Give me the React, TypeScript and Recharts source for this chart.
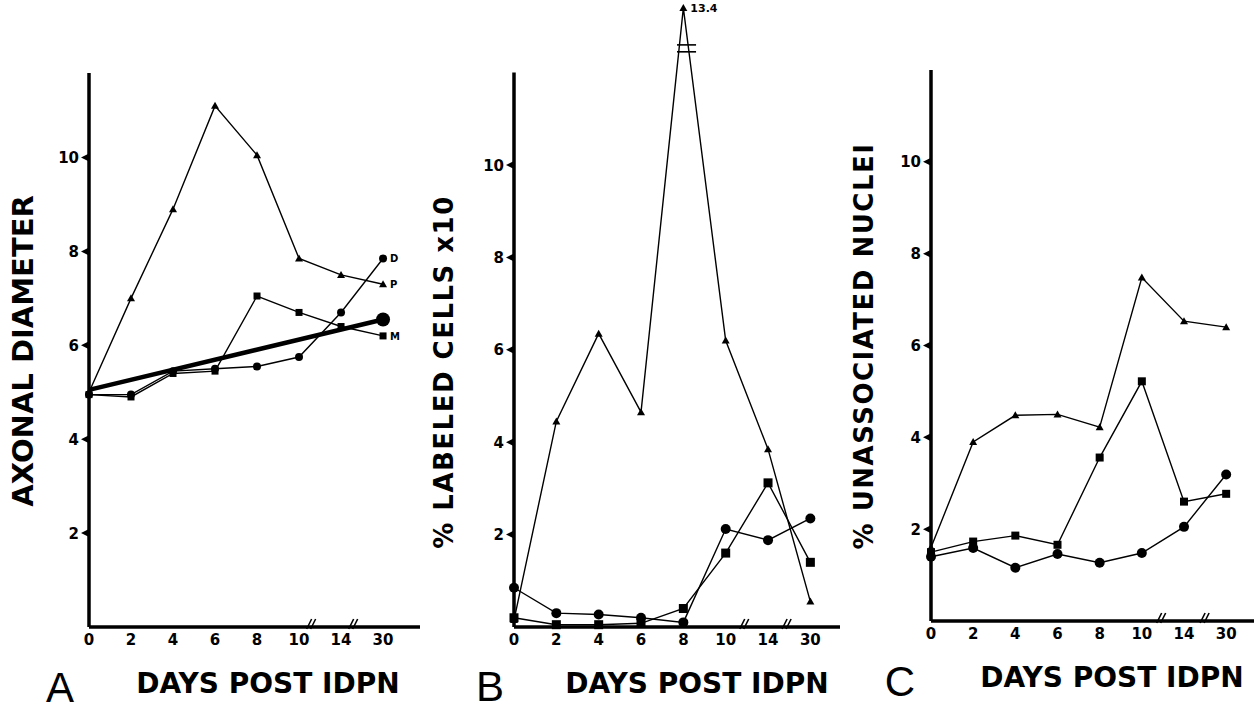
import React from "react";
import {
  LineChart,
  Line,
  XAxis,
  YAxis,
  ReferenceLine,
  ReferenceDot,
  LabelList
} from "recharts";

// days post IDPN, plotted on an evenly spaced index (axis is broken after 10 and 14)
const days = ["0", "2", "4", "6", "8", "10", "14", "30"];
const pos = [0, 1, 2, 3, 4, 5, 6, 7];
const yTicks = [2, 4, 6, 8, 10];

// A - axonal diameter (P = triangles, M = squares, D = circles, N = thick line)
const aP = [5.0, 7.0, 8.9, 11.1, 10.05, 7.85, 7.5, 7.3];
const aM = [4.95, 4.9, 5.4, 5.45, 7.05, 6.7, 6.4, 6.2];
const aD = [4.95, 4.95, 5.45, 5.5, 5.55, 5.75, 6.7, 7.85];
const aN = [5.05, null, null, null, null, null, null, 6.55];
const aEnd = { p: "P", m: "M", d: "D" };

// B - % labeled cells x10
const bTri = [0.15, 4.45, 6.35, 4.65, 13.4, 6.2, 3.85, 0.55];
const bSq = [0.2, 0.05, 0.05, 0.08, 0.4, 1.6, 3.12, 1.4];
const bCir = [0.85, 0.3, 0.27, 0.2, 0.1, 2.12, 1.88, 2.35];

// C - % unassociated nuclei
const cTri = [1.6, 3.9, 4.48, 4.5, 4.22, 7.48, 6.53, 6.4];
const cSq = [1.5, 1.73, 1.86, 1.66, 3.56, 5.22, 2.6, 2.77];
const cCir = [1.4, 1.59, 1.16, 1.46, 1.27, 1.48, 2.05, 3.19];

const dataA = pos.map((x, i) => ({ pos: x, p: aP[i], m: aM[i], d: aD[i], n: aN[i] }));
const dataB = pos.map((x, i) => ({ pos: x, t: bTri[i], s: bSq[i], c: bCir[i] }));
const dataC = pos.map((x, i) => ({ pos: x, t: cTri[i], s: cSq[i], c: cCir[i] }));

const FONT = "'DejaVu Sans', sans-serif";

const tri = (s: number) => (p: any) => {
  const { cx, cy, index } = p;
  if (cx == null || cy == null) return <g key={index} />;
  return (
    <polygon
      key={index}
      points={`${cx},${cy - s} ${cx - s},${cy + s * 0.75} ${cx + s},${cy + s * 0.75}`}
      fill="#000"
    />
  );
};
const sq = (s: number) => (p: any) => {
  const { cx, cy, index } = p;
  if (cx == null || cy == null) return <g key={index} />;
  return <rect key={index} x={cx - s} y={cy - s} width={s * 2} height={s * 2} fill="#000" />;
};
const cir = (r: number) => (p: any) => {
  const { cx, cy, index } = p;
  if (cx == null || cy == null) return <g key={index} />;
  return <circle key={index} cx={cx} cy={cy} r={r} fill="#000" />;
};
const bigEnd = (p: any) => {
  const { cx, cy, index } = p;
  if (cx == null || cy == null || index !== 7) return <g key={index} />;
  return <circle key={index} cx={cx} cy={cy} r={7} fill="#000" />;
};

const yTick = (props: any) => {
  const { x, y, payload } = props;
  return (
    <g>
      <text x={x - 10} y={y + 5.5} textAnchor="end" fontSize={15} fontWeight="bold" fontFamily={FONT} fill="#000">
        {payload.value}
      </text>
      <polygon points={`${x - 1},${y - 3.5} ${x - 1},${y + 3.5} ${x - 8},${y}`} fill="#000" />
    </g>
  );
};

const xTick = (props: any) => {
  const { x, y, payload } = props;
  return (
    <text x={x} y={y + 18} textAnchor="middle" fontSize={15} fontWeight="bold" fontFamily={FONT} fill="#000">
      {days[payload.value]}
    </text>
  );
};

const breakMark = (props: any) => {
  const { cx, cy } = props;
  return (
    <g stroke="#000" strokeWidth={1.6}>
      <line x1={cx - 5} y1={cy + 2} x2={cx} y2={cy - 8} />
      <line x1={cx - 1} y1={cy + 2} x2={cx + 4} y2={cy - 8} />
    </g>
  );
};

const endLabel = (text: string) => (props: any) => {
  const { x, y, index } = props;
  if (index !== 7) return null;
  return (
    <text x={x + 7} y={y + 4} fontSize={10} fontWeight="bold" fontFamily={FONT} fill="#000">
      {text}
    </text>
  );
};

const peakLabel = (props: any) => {
  const { x, y, value } = props;
  if (value <= 12) return null;
  return (
    <text x={x + 7} y={y + 4} fontSize={11} fontWeight="bold" fontFamily={FONT} fill="#000">
      {value}
    </text>
  );
};

const axisStroke = { stroke: "#000", strokeWidth: 3.5 };
const thin = { stroke: "#000", strokeWidth: 1.4 };

function xAxis(max: number) {
  return (
    <XAxis
      type="number"
      dataKey="pos"
      domain={[0, max]}
      ticks={pos}
      interval={0}
      tick={xTick}
      tickLine={false}
      tickSize={0}
      tickMargin={0}
      height={30}
      axisLine={axisStroke}
    />
  );
}

function PanelA() {
  return (
    <LineChart width={424} height={711} data={dataA} margin={{ top: 73, right: 4, bottom: 54, left: 49 }}>
      {xAxis(7.88)}
      <YAxis
        type="number"
        domain={[0, 11.8]}
        ticks={yTicks}
        interval={0}
        tick={yTick}
        tickLine={false}
        tickSize={0}
        tickMargin={0}
        width={40}
        axisLine={axisStroke}
      />
      <ReferenceDot x={5.3} y={0} r={0} shape={breakMark} ifOverflow="visible" />
      <ReferenceDot x={6.3} y={0} r={0} shape={breakMark} ifOverflow="visible" />
      <Line dataKey="n" {...thin} strokeWidth={4.5} connectNulls dot={bigEnd} isAnimationActive={false} />
      <Line dataKey="p" {...thin} dot={tri(4)} isAnimationActive={false}>
        <LabelList dataKey="p" content={endLabel(aEnd.p)} />
      </Line>
      <Line dataKey="m" {...thin} dot={sq(3.5)} isAnimationActive={false}>
        <LabelList dataKey="m" content={endLabel(aEnd.m)} />
      </Line>
      <Line dataKey="d" {...thin} dot={cir(4)} isAnimationActive={false}>
        <LabelList dataKey="d" content={endLabel(aEnd.d)} />
      </Line>
    </LineChart>
  );
}

function PanelB() {
  return (
    <LineChart width={414} height={711} data={dataB} margin={{ top: 1, right: 4, bottom: 54, left: 44 }}>
      {xAxis(7.7)}
      <YAxis
        type="number"
        domain={[0, 13.55]}
        ticks={yTicks}
        interval={0}
        tick={yTick}
        tickLine={false}
        tickSize={0}
        tickMargin={0}
        width={40}
        axisLine={false}
      />
      <ReferenceLine segment={[{ x: 0, y: 0 }, { x: 0, y: 12 }]} stroke="#000" strokeWidth={3.5} />
      <ReferenceLine segment={[{ x: 3.85, y: 12.6 }, { x: 4.3, y: 12.6 }]} stroke="#000" strokeWidth={1.6} />
      <ReferenceLine segment={[{ x: 3.85, y: 12.45 }, { x: 4.3, y: 12.45 }]} stroke="#000" strokeWidth={1.6} />
      <ReferenceDot x={5.45} y={0} r={0} shape={breakMark} ifOverflow="visible" />
      <ReferenceDot x={6.45} y={0} r={0} shape={breakMark} ifOverflow="visible" />
      <Line dataKey="t" {...thin} dot={tri(4)} isAnimationActive={false}>
        <LabelList dataKey="t" content={peakLabel} />
      </Line>
      <Line dataKey="s" {...thin} dot={sq(4.5)} isAnimationActive={false} />
      <Line dataKey="c" {...thin} dot={cir(5)} isAnimationActive={false} />
    </LineChart>
  );
}

function PanelC() {
  return (
    <LineChart width={404} height={711} data={dataC} margin={{ top: 70, right: 0, bottom: 60, left: 41 }}>
      {xAxis(7.66)}
      <YAxis
        type="number"
        domain={[0, 12]}
        ticks={yTicks}
        interval={0}
        tick={yTick}
        tickLine={false}
        tickSize={0}
        tickMargin={0}
        width={40}
        axisLine={axisStroke}
      />
      <ReferenceDot x={5.47} y={0} r={0} shape={breakMark} ifOverflow="visible" />
      <ReferenceDot x={6.5} y={0} r={0} shape={breakMark} ifOverflow="visible" />
      <Line dataKey="t" {...thin} dot={tri(4)} isAnimationActive={false} />
      <Line dataKey="s" {...thin} dot={sq(4)} isAnimationActive={false} />
      <Line dataKey="c" {...thin} dot={cir(5)} isAnimationActive={false} />
    </LineChart>
  );
}

const titleStyle = { fontFamily: FONT, fontWeight: "bold" as const, fill: "#000" };
const letterFont = "'Liberation Sans', Arial, sans-serif";

export default function App() {
  return (
    <div style={{ position: "absolute", left: 0, top: 0, width: 1254, height: 711, background: "#fff" }}>
      <div style={{ position: "absolute", left: 0, top: 0 }}>
        <PanelA />
      </div>
      <div style={{ position: "absolute", left: 430, top: 0 }}>
        <PanelB />
      </div>
      <div style={{ position: "absolute", left: 850, top: 0 }}>
        <PanelC />
      </div>
      <svg width={1254} height={711} style={{ position: "absolute", left: 0, top: 0, pointerEvents: "none" }}>
        <text transform="translate(33,351) rotate(-90)" textAnchor="middle" fontSize={29} {...titleStyle}>
          AXONAL DIAMETER
        </text>
        <text transform="translate(453,372) rotate(-90)" textAnchor="middle" fontSize={26} letterSpacing={1.5} {...titleStyle}>
          % LABELED CELLS x10
        </text>
        <text transform="translate(873,346) rotate(-90)" textAnchor="middle" fontSize={26} letterSpacing={1.5} {...titleStyle}>
          % UNASSOCIATED NUCLEI
        </text>
        <text x={268} y={693} textAnchor="middle" fontSize={28} {...titleStyle}>DAYS POST IDPN</text>
        <text x={697} y={693} textAnchor="middle" fontSize={28} {...titleStyle}>DAYS POST IDPN</text>
        <text x={1112} y={687} textAnchor="middle" fontSize={28} {...titleStyle}>DAYS POST IDPN</text>
        <text x={60} y={702} textAnchor="middle" fontSize={42} fontFamily={letterFont} fill="#000">A</text>
        <text x={490} y={701} textAnchor="middle" fontSize={42} fontFamily={letterFont} fill="#000">B</text>
        <text x={900} y={696} textAnchor="middle" fontSize={42} fontFamily={letterFont} fill="#000">C</text>
      </svg>
    </div>
  );
}
